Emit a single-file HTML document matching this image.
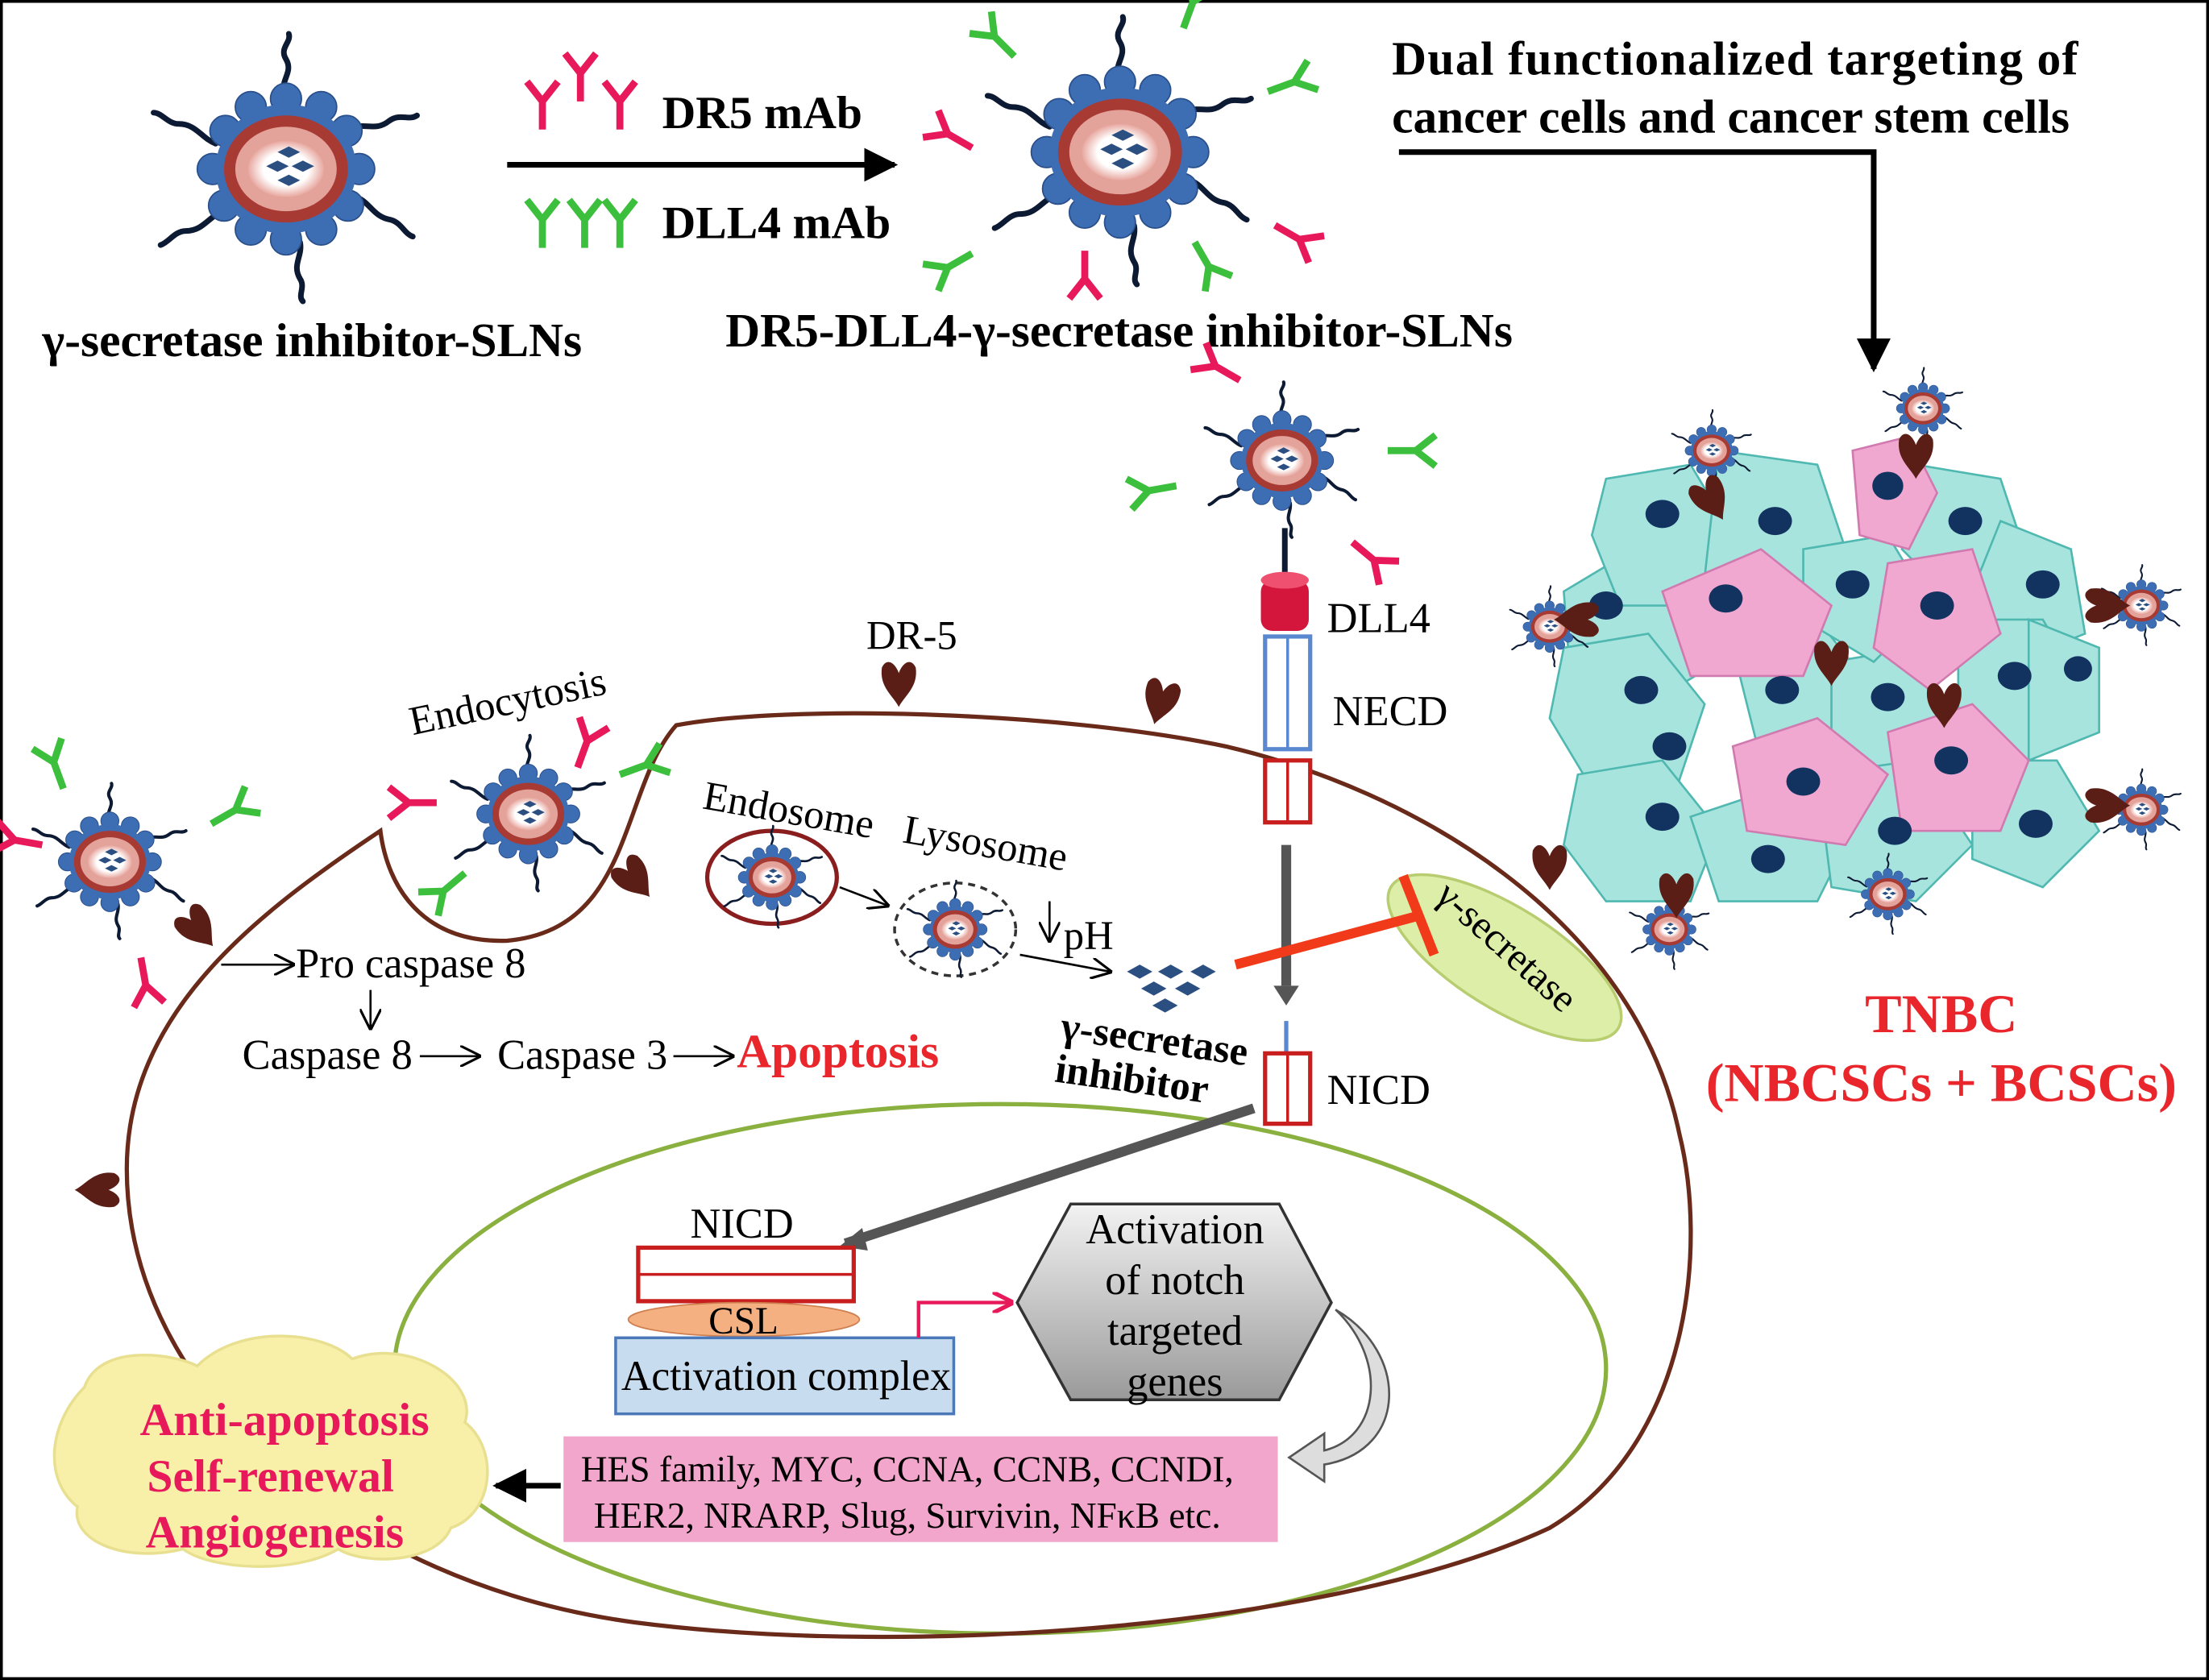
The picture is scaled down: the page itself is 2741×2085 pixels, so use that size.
<!DOCTYPE html>
<html><head><meta charset="utf-8"><style>
html,body{margin:0;padding:0;background:#fff}
svg{display:block}
text{font-family:"Liberation Serif",serif}
</style></head><body>
<svg width="2741" height="2085" viewBox="0 0 1568 1193" preserveAspectRatio="none" xmlns="http://www.w3.org/2000/svg">
<defs>
<radialGradient id="core" cx="50%" cy="50%" r="50%"><stop offset="0.6" stop-color="#fff"/><stop offset="1" stop-color="#e8a8a0"/></radialGradient>
<linearGradient id="hex" x1="0" y1="0" x2="0" y2="1"><stop offset="0" stop-color="#f2f2f2"/><stop offset="1" stop-color="#9a9a9a"/></linearGradient>
<g id="np">
  <g stroke="#0d1a33" stroke-width="4" fill="none" stroke-linecap="round">
    <path d="M0,-52 c-6,-10 6,-16 0,-26 c-5,-8 4,-12 2,-18"/>
    <path d="M45,-28 c10,-6 18,2 28,-6 c8,-6 14,0 20,-4"/>
    <path d="M50,20 c10,4 12,14 24,16 c8,2 10,10 16,12"/>
    <path d="M10,52 c2,10 -6,16 0,26 c4,6 -2,12 2,16"/>
    <path d="M-45,30 c-10,4 -14,14 -26,14 c-8,0 -12,8 -18,10"/>
    <path d="M-50,-18 c-10,-4 -14,-14 -26,-14 c-8,0 -12,-8 -18,-8"/>
  </g>
  <g fill="#3d6db3" stroke="#2a4f8a" stroke-width="1">
    <circle cx="0" cy="-50" r="11"/><circle cx="25" cy="-44" r="11"/><circle cx="43" cy="-27" r="11"/><circle cx="52" cy="0" r="11"/><circle cx="44" cy="26" r="11"/><circle cx="25" cy="43" r="11"/><circle cx="0" cy="50" r="11"/><circle cx="-25" cy="43" r="11"/><circle cx="-44" cy="26" r="11"/><circle cx="-52" cy="0" r="11"/><circle cx="-43" cy="-27" r="11"/><circle cx="-25" cy="-44" r="11"/>
  </g>
  <ellipse cx="0" cy="0" rx="50" ry="46" fill="#3d6db3"/>
  <ellipse cx="0" cy="0" rx="44" ry="38" fill="#a83a34"/>
  <ellipse cx="0" cy="0" rx="36" ry="30" fill="#e3a39b"/>
  <ellipse cx="0" cy="0" rx="27" ry="20" fill="url(#core)"/>
  <g fill="#2b4f80"><path d="M-6,-12 l8,-4 8,4 -8,4z"/><path d="M-14,-2 l8,-4 8,4 -8,4z"/><path d="M4,-2 l8,-4 8,4 -8,4z"/><path d="M-6,8 l8,-4 8,4 -8,4z"/></g>
</g>
<g id="ab"><path d="M0,0 L0,-20 M0,-20 L-11,-34 M0,-20 L11,-34" stroke-width="5" fill="none"/></g>
<marker id="ah" viewBox="0 0 10 10" refX="9" refY="5" markerWidth="6" markerHeight="6" orient="auto"><path d="M0,0 L10,5 L0,10 z" fill="#000"/></marker>
<marker id="aho" viewBox="0 0 10 10" refX="9" refY="5" markerWidth="10" markerHeight="10" orient="auto"><path d="M0,0 L10,5 L0,10" fill="none" stroke="#000" stroke-width="1.2"/></marker>
<marker id="ahp" viewBox="0 0 10 10" refX="9" refY="5" markerWidth="6" markerHeight="6" orient="auto"><path d="M0,0 L10,5 L0,10" fill="none" stroke="#e8195a" stroke-width="2"/></marker>
<g id="rec"><path d="M-12,-6 C-14,8 -4,14 0,22 C4,14 14,8 12,-6 C8,-14 2,-8 0,-2 C-2,-8 -8,-14 -12,-6 Z" fill="#5a1e16"/></g>
</defs>

<rect x="0" y="0" width="1568" height="1193" fill="#fff"/>
<rect x="1" y="1" width="1566" height="1191" fill="none" stroke="#000" stroke-width="2"/>

<use href="#np" x="203" y="120"/>
<use href="#np" x="795" y="108"/>
<g stroke="#e8195a"><use href="#ab" x="385" y="92"/><use href="#ab" x="412" y="72"/><use href="#ab" x="440" y="92"/><use href="#ab" x="690" y="105" transform="rotate(-60 690 105)"/><use href="#ab" x="905" y="160" transform="rotate(120 905 160)"/><use href="#ab" x="770" y="178" transform="rotate(180 770 178)"/></g>
<g stroke="#3cbf3c"><use href="#ab" x="385" y="176"/><use href="#ab" x="415" y="176"/><use href="#ab" x="440" y="176"/><use href="#ab" x="720" y="40" transform="rotate(-45 720 40)"/><use href="#ab" x="900" y="65" transform="rotate(70 900 65)"/><use href="#ab" x="848" y="172" transform="rotate(150 848 172)"/><use href="#ab" x="690" y="180" transform="rotate(-120 690 180)"/><use href="#ab" x="840" y="20" transform="rotate(20 840 20)"/></g>
<line x1="360" y1="117" x2="635" y2="117" stroke="#000" stroke-width="4" marker-end="url(#ah)"/>
<text x="470" y="91" font-size="33" font-weight="bold">DR5 mAb</text>
<text x="470" y="169" font-size="33" font-weight="bold">DLL4 mAb</text>
<text x="30" y="253" font-size="34" font-weight="bold">γ-secretase inhibitor-SLNs</text>
<text x="515" y="246" font-size="34" font-weight="bold">DR5-DLL4-γ-secretase inhibitor-SLNs</text>
<text x="988" y="53" font-size="34" font-weight="bold" textLength="487" lengthAdjust="spacing">Dual  functionalized targeting  of</text>
<text x="988" y="94" font-size="34" font-weight="bold">cancer cells and cancer stem cells</text>
<path d="M993,108 L1330,108 L1330,262" fill="none" stroke="#000" stroke-width="4" marker-end="url(#ah)"/>

<g stroke="#4fb8b0" stroke-width="1.5">
<g fill="#a8e4de">
<path d="M1110,420 l50,-30 50,20 10,60 -50,30 -55,-15z"/>
<path d="M1140,340 l60,-10 30,50 -20,50 -60,0 -20,-50z"/>
<path d="M1220,320 l70,10 20,60 -40,40 -60,-20z"/>
<path d="M1360,330 l60,10 20,60 -50,30 -40,-40z"/>
<path d="M1420,370 l50,20 10,60 -50,20 -30,-50z"/>
<path d="M1110,460 l60,-10 40,50 -20,60 -60,0 -30,-50z"/>
<path d="M1230,460 l60,-20 40,50 -20,60 -60,-10z"/>
<path d="M1300,470 l60,-10 30,60 -40,40 -50,-30z"/>
<path d="M1390,440 l60,0 30,50 -40,50 -50,-20z"/>
<path d="M1440,440 l50,20 0,60 -50,20z"/>
<path d="M1120,550 l60,-10 40,50 -20,50 -60,0 -30,-40z"/>
<path d="M1200,580 l60,-20 50,40 -20,40 -70,0z"/>
<path d="M1290,550 l70,-10 40,60 -40,40 -60,-10z"/>
<path d="M1400,540 l60,0 30,50 -40,40 -50,-20z"/>
<path d="M1280,390 l60,-10 30,50 -40,40 -50,-30z"/>
</g>
<g fill="#f0a8d0" stroke="#d07ab0">
<path d="M1315,320 l40,-10 20,40 -20,40 -35,-10z"/>
<path d="M1180,420 l70,-30 50,40 -20,50 -80,0z"/>
<path d="M1340,400 l60,-10 20,60 -50,40 -40,-30z"/>
<path d="M1230,530 l60,-20 50,40 -30,50 -70,-10z"/>
<path d="M1340,520 l60,-20 40,40 -20,50 -70,0z"/>
</g>
</g>
<g fill="#123260">
<ellipse cx="1180" cy="365" rx="12" ry="10"/><ellipse cx="1260" cy="370" rx="12" ry="10"/><ellipse cx="1340" cy="345" rx="11" ry="10"/><ellipse cx="1395" cy="370" rx="12" ry="10"/><ellipse cx="1450" cy="415" rx="12" ry="10"/>
<ellipse cx="1140" cy="430" rx="12" ry="10"/><ellipse cx="1225" cy="425" rx="12" ry="10"/><ellipse cx="1315" cy="415" rx="12" ry="10"/><ellipse cx="1375" cy="430" rx="12" ry="10"/>
<ellipse cx="1165" cy="490" rx="12" ry="10"/><ellipse cx="1265" cy="490" rx="12" ry="10"/><ellipse cx="1340" cy="495" rx="12" ry="10"/><ellipse cx="1430" cy="480" rx="12" ry="10"/><ellipse cx="1475" cy="475" rx="10" ry="9"/>
<ellipse cx="1180" cy="580" rx="12" ry="10"/><ellipse cx="1280" cy="555" rx="12" ry="10"/><ellipse cx="1385" cy="540" rx="12" ry="10"/><ellipse cx="1445" cy="585" rx="12" ry="10"/><ellipse cx="1255" cy="610" rx="12" ry="10"/><ellipse cx="1345" cy="590" rx="12" ry="10"/><ellipse cx="1185" cy="530" rx="12" ry="10"/>
</g>
<g transform="translate(1215,320) scale(0.3)"><use href="#np"/></g>
<g transform="translate(1365,290) scale(0.3)"><use href="#np"/></g>
<g transform="translate(1100,445) scale(0.3)"><use href="#np"/></g>
<g transform="translate(1520,430) scale(0.3)"><use href="#np"/></g>
<g transform="translate(1520,575) scale(0.3)"><use href="#np"/></g>
<g transform="translate(1185,660) scale(0.3)"><use href="#np"/></g>
<g transform="translate(1340,635) scale(0.3)"><use href="#np"/></g>
<use href="#rec" x="1212" y="350" transform="rotate(-30 1212 350)"/>
<use href="#rec" x="1360" y="318"/>
<use href="#rec" x="1300" y="465"/>
<use href="#rec" x="1380" y="495"/>
<use href="#rec" x="1490" y="430" transform="rotate(-90 1490 430)"/>
<use href="#rec" x="1125" y="440" transform="rotate(90 1125 440)"/>
<use href="#rec" x="1190" y="630"/>
<use href="#rec" x="1490" y="572" transform="rotate(-90 1490 572)"/>
<text x="1378" y="733" font-size="39" font-weight="bold" fill="#e8262c" text-anchor="middle">TNBC</text>
<text x="1378" y="782" font-size="39" font-weight="bold" fill="#e8262c" text-anchor="middle">(NBCSCs + BCSCs)</text>

<ellipse cx="710" cy="972" rx="430" ry="188" fill="none" stroke="#8ab040" stroke-width="3"/>
<path d="M270,590 C180,650 90,720 90,830 C90,990 250,1125 450,1152 C650,1178 950,1155 1100,1085 C1200,1025 1212,885 1192,805 C1160,650 1000,560 870,530 C750,505 560,500 480,515 C440,560 450,660 360,668 C300,670 275,630 270,590 Z" fill="none" stroke="#6a2a1a" stroke-width="3"/>

<use href="#rec" x="638" y="480"/>
<use href="#rec" x="825" y="493" transform="rotate(15 825 493)"/>
<use href="#rec" x="1100" y="610"/>
<use href="#rec" x="75" y="845" transform="rotate(90 75 845)"/>
<use href="#rec" x="447" y="620" transform="rotate(-40 447 620)"/>
<use href="#rec" x="137" y="655" transform="rotate(-40 137 655)"/>
<text x="615" y="461" font-size="29">DR-5</text>
<text x="293" y="522" font-size="29" transform="rotate(-12 293 522)">Endocytosis</text>

<g transform="translate(78,612) scale(0.58)"><use href="#np"/></g>
<g transform="translate(375,578) scale(0.58)"><use href="#np"/></g>
<g transform="translate(910,327) scale(0.58)"><use href="#np"/></g>
<g stroke="#e8195a" stroke-width="0.8"><use href="#ab" x="30" y="600" transform="rotate(-80 30 600)"/><use href="#ab" x="100" y="680" transform="rotate(170 100 680)"/><use href="#ab" x="310" y="570" transform="rotate(-90 310 570)"/><use href="#ab" x="410" y="545" transform="rotate(20 410 545)"/><use href="#ab" x="880" y="270" transform="rotate(-60 880 270)"/><use href="#ab" x="960" y="385" transform="rotate(130 960 385)"/></g>
<g stroke="#3cbf3c" stroke-width="0.8"><use href="#ab" x="45" y="560" transform="rotate(-20 45 560)"/><use href="#ab" x="150" y="585" transform="rotate(60 150 585)"/><use href="#ab" x="440" y="550" transform="rotate(70 440 550)"/><use href="#ab" x="330" y="620" transform="rotate(-130 330 620)"/><use href="#ab" x="985" y="320" transform="rotate(90 985 320)"/><use href="#ab" x="835" y="345" transform="rotate(-100 835 345)"/></g>

<line x1="912" y1="375" x2="912" y2="410" stroke="#0d1a33" stroke-width="4"/>
<rect x="895" y="412" width="34" height="36" rx="8" fill="#d4163c"/>
<ellipse cx="912" cy="412" rx="17" ry="6" fill="#f05070"/>
<rect x="898" y="452" width="32" height="80" fill="#fff" stroke="#5a88d0" stroke-width="3"/>
<line x1="914" y1="452" x2="914" y2="532" stroke="#5a88d0" stroke-width="2"/>
<rect x="898" y="540" width="32" height="44" fill="#fff" stroke="#c81e1e" stroke-width="3"/>
<line x1="914" y1="540" x2="914" y2="584" stroke="#c81e1e" stroke-width="2"/>
<text x="942" y="449" font-size="30">DLL4</text>
<text x="946" y="515" font-size="30">NECD</text>
<line x1="913" y1="600" x2="913" y2="700" stroke="#555" stroke-width="7"/>
<path d="M904,700 L922,700 L913,714 Z" fill="#555"/>
<line x1="913" y1="725" x2="913" y2="748" stroke="#5a88d0" stroke-width="3"/>
<rect x="898" y="748" width="32" height="50" fill="#fff" stroke="#c81e1e" stroke-width="3"/>
<line x1="914" y1="748" x2="914" y2="798" stroke="#c81e1e" stroke-width="2"/>
<text x="942" y="784" font-size="30">NICD</text>
<line x1="890" y1="787" x2="600" y2="883" stroke="#555" stroke-width="7"/>
<path d="M596,885 L612,872 L616,888 Z" fill="#555"/>

<ellipse cx="1068" cy="680" rx="95" ry="36" transform="rotate(32 1068 680)" fill="#ddeea8" stroke="#b8cc70" stroke-width="2"/>
<text x="1018" y="638" font-size="28" transform="rotate(42 1018 638)">γ-secretase</text>
<line x1="877" y1="685" x2="1008" y2="650" stroke="#f03a1a" stroke-width="7"/>
<line x1="996" y1="622" x2="1018" y2="678" stroke="#f03a1a" stroke-width="7"/>

<ellipse cx="548" cy="623" rx="46" ry="33" fill="none" stroke="#8a1e1e" stroke-width="3"/>
<g transform="translate(548,623) scale(0.38)"><use href="#np"/></g>
<ellipse cx="678" cy="660" rx="43" ry="33" fill="none" stroke="#333" stroke-width="2" stroke-dasharray="5,4"/>
<g transform="translate(678,660) scale(0.36)"><use href="#np"/></g>
<text x="498" y="574" font-size="29" transform="rotate(10 498 574)">Endosome</text>
<text x="640" y="598" font-size="29" transform="rotate(10 640 598)">Lysosome</text>
<line x1="596" y1="630" x2="630" y2="643" stroke="#000" stroke-width="1.5" marker-end="url(#aho)"/>
<line x1="724" y1="678" x2="788" y2="690" stroke="#000" stroke-width="1.5" marker-end="url(#aho)"/>
<line x1="745" y1="640" x2="745" y2="668" stroke="#000" stroke-width="1.5" marker-end="url(#aho)"/>
<text x="755" y="674" font-size="29">pH</text>
<g fill="#2b4f80"><path d="M800,690 l9,-5 9,5 -9,5z"/><path d="M822,690 l9,-5 9,5 -9,5z"/><path d="M845,690 l9,-5 9,5 -9,5z"/><path d="M810,702 l9,-5 9,5 -9,5z"/><path d="M834,702 l9,-5 9,5 -9,5z"/><path d="M818,714 l9,-5 9,5 -9,5z"/></g>
<text x="752" y="738" font-size="29" font-weight="bold" transform="rotate(8 752 738)">γ-secretase</text>
<text x="748" y="768" font-size="29" font-weight="bold" transform="rotate(8 748 768)">inhibitor</text>

<line x1="157" y1="685" x2="208" y2="685" stroke="#000" stroke-width="1.5" marker-end="url(#aho)"/>
<text x="210" y="694" font-size="30">Pro caspase 8</text>
<line x1="263" y1="703" x2="263" y2="730" stroke="#000" stroke-width="1.5" marker-end="url(#aho)"/>
<text x="172" y="759" font-size="30">Caspase 8</text>
<line x1="298" y1="750" x2="340" y2="750" stroke="#000" stroke-width="1.5" marker-end="url(#aho)"/>
<text x="353" y="759" font-size="30">Caspase 3</text>
<line x1="478" y1="750" x2="520" y2="750" stroke="#000" stroke-width="1.5" marker-end="url(#aho)"/>
<text x="523" y="758" font-size="34" font-weight="bold" fill="#e8262c">Apoptosis</text>

<text x="490" y="879" font-size="30">NICD</text>
<rect x="453" y="886" width="153" height="38" fill="#fff" stroke="#c81e1e" stroke-width="3"/>
<line x1="453" y1="905" x2="606" y2="905" stroke="#c81e1e" stroke-width="2"/>
<ellipse cx="528" cy="937" rx="82" ry="12" fill="#f4b080" stroke="#d08050"/>
<text x="503" y="947" font-size="27">CSL</text>
<rect x="437" y="950" width="240" height="54" fill="#c8dcf0" stroke="#4a78b8" stroke-width="2"/>
<text x="441" y="987" font-size="30" textLength="234" lengthAdjust="spacingAndGlyphs">Activation complex</text>
<path d="M652,950 L652,925 L718,925" fill="none" stroke="#e8195a" stroke-width="2.5" marker-end="url(#ahp)"/>
<path d="M760,855 L908,855 L945,925 L908,994 L760,994 L722,925 Z" fill="url(#hex)" stroke="#333" stroke-width="2"/>
<text x="834" y="883" font-size="30" text-anchor="middle">Activation</text>
<text x="834" y="919" font-size="30" text-anchor="middle">of notch</text>
<text x="834" y="955" font-size="30" text-anchor="middle">targeted</text>
<text x="834" y="991" font-size="30" text-anchor="middle">genes</text>
<path d="M948,930 C1000,960 1000,1030 940,1040 L940,1052 L915,1035 L940,1018 L940,1030 C980,1020 985,965 948,930 Z" fill="#ddd" stroke="#555" stroke-width="1.5"/>
<rect x="400" y="1020" width="507" height="75" fill="#f2a6cc"/>
<text x="644" y="1052" font-size="26" text-anchor="middle">HES family, MYC, CCNA, CCNB, CCNDI,</text>
<text x="644" y="1085" font-size="26" text-anchor="middle">HER2, NRARP, Slug, Survivin, NFκB etc.</text>
<line x1="398" y1="1055" x2="352" y2="1055" stroke="#000" stroke-width="4" marker-end="url(#ah)"/>

<path d="M60,985 C70,955 120,960 140,970 C170,940 230,945 250,965 C290,950 340,980 330,1010 C355,1030 350,1075 320,1085 C310,1110 260,1112 240,1100 C210,1118 150,1115 130,1100 C90,1110 50,1095 55,1070 C30,1050 35,1010 60,985 Z" fill="#f8f0a8" stroke="#e8e090" stroke-width="2"/>
<text x="202" y="1019" font-size="33" font-weight="bold" fill="#e8195a" text-anchor="middle">Anti-apoptosis</text>
<text x="192" y="1059" font-size="33" font-weight="bold" fill="#e8195a" text-anchor="middle">Self-renewal</text>
<text x="195" y="1099" font-size="33" font-weight="bold" fill="#e8195a" text-anchor="middle">Angiogenesis</text>
</svg>
</body></html>
